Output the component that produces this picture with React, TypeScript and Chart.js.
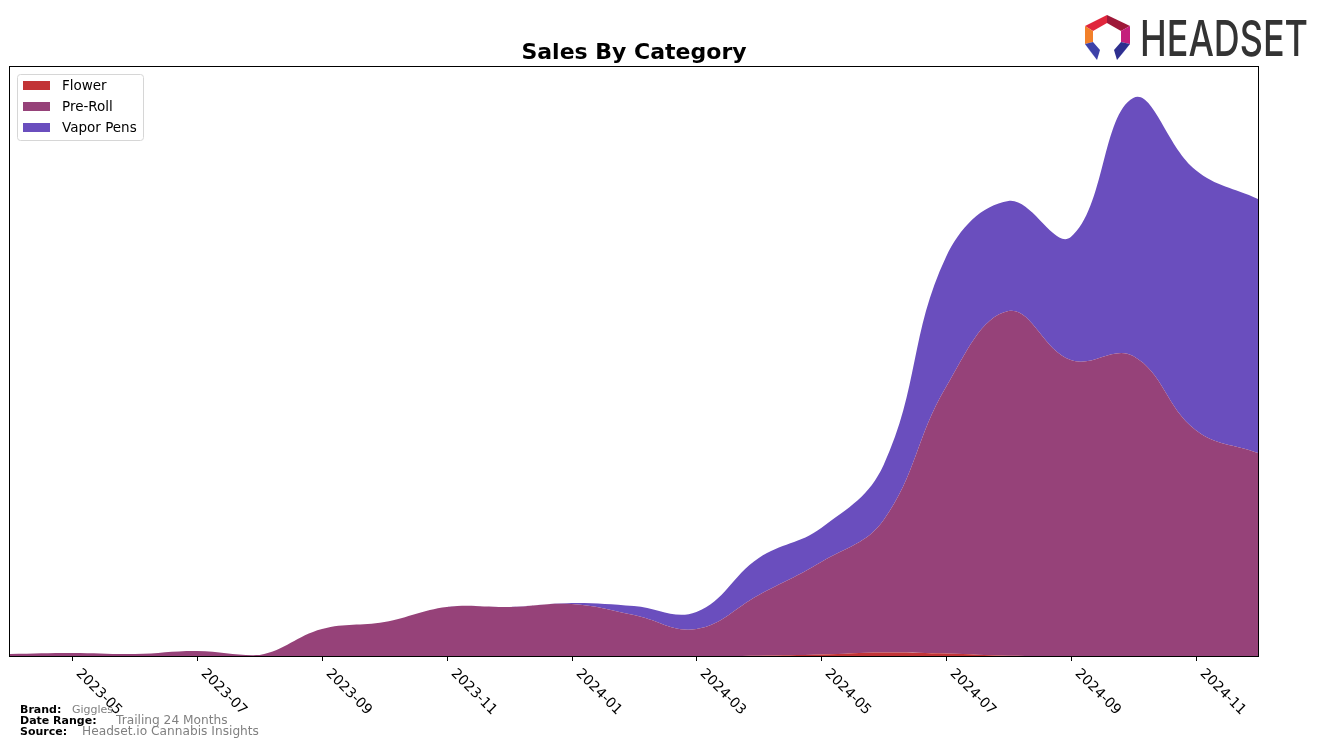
import React, { useEffect, useRef } from "react";
import { Chart, registerables } from "chart.js";

Chart.register(...registerables);

// ---- data (relative sales) ----
const months = [
  "2023-04", "2023-05", "2023-06", "2023-07", "2023-08", "2023-09", "2023-10",
  "2023-11", "2023-12", "2024-01", "2024-02", "2024-03", "2024-04", "2024-05",
  "2024-06", "2024-07", "2024-08", "2024-09", "2024-10", "2024-11", "2024-12",
];
const tickLabels = [
  "2023-05", "2023-07", "2023-09", "2023-11", "2024-01",
  "2024-03", "2024-05", "2024-07", "2024-09", "2024-11",
];
const flower = [0, 0, 0, 0, 0, 0, 0, 0, 0, 0, 0, 0, 0.3, 1.5, 3.5, 2.5, 0.3, 0, 0, 0, 0];
const preRoll = [2, 3, 2, 5, 1, 27, 34, 49, 49, 52, 41, 27, 60.7, 92.5, 132.5, 266.5, 344.7, 296, 300, 226, 203];
const vaporPens = [0, 0, 0, 0, 0, 0, 0, 0, 0, 1, 9, 17, 37, 34, 55, 130, 110, 123, 258, 260, 254];
const yMax = 589;

const seriesNames = ["Flower", "Pre-Roll", "Vapor Pens"];
const seriesColors = ["#c23436", "#964279", "#6a4ebe"];

const FONT = "'DejaVu Sans', 'Noto Sans', sans-serif";

function drawLogo(ctx: CanvasRenderingContext2D) {
  const P = (pts: number[][], color: string) => {
    ctx.beginPath();
    ctx.moveTo(pts[0][0], pts[0][1]);
    for (let i = 1; i < pts.length; i++) ctx.lineTo(pts[i][0], pts[i][1]);
    ctx.closePath();
    ctx.fillStyle = color;
    ctx.fill();
  };
  const T = [1107, 15], UR = [1130, 26], LR = [1130, 44], UL = [1085, 26], LL = [1085, 44];
  const Ti = [1107, 23], URi = [1121, 31], LRi = [1121, 42], ULi = [1093, 31], LLi = [1093, 42];
  P([UL, T, Ti, ULi], "#e0263c");
  P([T, UR, URi, Ti], "#9e1838");
  P([UR, LR, LRi, URi], "#c41f7c");
  P([UL, LL, LLi, ULi], "#f2802a");
  P([LL, LLi, [1100, 50], [1097, 60]], "#3d41a8");
  P([LL, [1097, 60], [1090, 51]], "#5a60d8");
  P([LRi, LR, [1117, 60], [1114, 50]], "#2e2f8f");
  P([LR, [1124, 51], [1117, 60]], "#4b4fc4");

  ctx.save();
  ctx.fillStyle = "#333333";
  ctx.font = `500 49px Inter, 'DejaVu Sans', sans-serif`;
  ctx.textBaseline = "alphabetic";
  ctx.textAlign = "left";
  const w = ctx.measureText("HEADSET").width;
  const target = 168;
  ctx.translate(1140, 56);
  ctx.scale(target / w, 1);
  ctx.fillText("HEADSET", 0, 0);
  ctx.restore();
}

const overlay = {
  id: "overlay",
  afterDraw(chart: any) {
    const ctx: CanvasRenderingContext2D = chart.ctx;
    const a = chart.chartArea;
    const xs = chart.scales.x;
    ctx.save();

    // frame
    ctx.strokeStyle = "#000";
    ctx.lineWidth = 1;
    ctx.strokeRect(a.left - 0.5, a.top - 0.5, a.right - a.left + 1, a.bottom - a.top + 1);

    // ticks + labels
    ctx.font = `14px ${FONT}`;
    ctx.fillStyle = "#000";
    ctx.textAlign = "left";
    ctx.textBaseline = "alphabetic";
    tickLabels.forEach((lab) => {
      const idx = months.indexOf(lab);
      const x = Math.round(xs.getPixelForValue(idx)) + 0.5;
      ctx.beginPath();
      ctx.moveTo(x, a.bottom);
      ctx.lineTo(x, a.bottom + 5);
      ctx.stroke();
      ctx.save();
      ctx.translate(x + 3, a.bottom + 18);
      ctx.rotate(Math.PI / 4);
      ctx.fillText(lab, 0, 0);
      ctx.restore();
    });

    // title
    ctx.font = `bold 22px ${FONT}`;
    ctx.textAlign = "center";
    ctx.fillText("Sales By Category", (a.left + a.right) / 2, 59);

    // legend
    const lx = 17.5, ly = 74.5, lw = 126, lh = 66;
    ctx.beginPath();
    ctx.roundRect(lx, ly, lw, lh, 3);
    ctx.fillStyle = "rgba(255,255,255,0.85)";
    ctx.fill();
    ctx.strokeStyle = "#d6d6d6";
    ctx.lineWidth = 1;
    ctx.stroke();
    ctx.font = `13.5px ${FONT}`;
    ctx.textAlign = "left";
    ctx.textBaseline = "middle";
    seriesNames.forEach((name, i) => {
      const cy = 86 + i * 21;
      ctx.fillStyle = seriesColors[i];
      ctx.fillRect(23, cy - 5, 27, 9);
      ctx.fillStyle = "#000";
      ctx.fillText(name, 62, cy + 0.5);
    });

    // footer
    ctx.textBaseline = "alphabetic";
    ctx.fillStyle = "#000";
    ctx.font = `bold 11px ${FONT}`;
    ctx.fillText("Brand:", 20, 713);
    ctx.fillText("Date Range:", 20, 724);
    ctx.fillText("Source:", 20, 735);
    ctx.fillStyle = "#808080";
    ctx.font = `11px ${FONT}`;
    ctx.fillText("Giggles", 72, 713);
    ctx.font = `12.2px ${FONT}`;
    ctx.fillText("Trailing 24 Months", 116, 724);
    ctx.fillText("Headset.io Cannabis Insights", 82, 735);

    drawLogo(ctx);
    ctx.restore();
  },
};

export default function App() {
  const ref = useRef<HTMLCanvasElement | null>(null);
  useEffect(() => {
    if (!ref.current) return;
    Chart.defaults.font.family = FONT;
    const datasets = [flower, preRoll, vaporPens].map((d, i) => ({
      label: seriesNames[i],
      data: d,
      backgroundColor: seriesColors[i],
      borderColor: "rgba(0,0,0,0)",
      borderWidth: 0,
      pointRadius: 0,
      fill: i === 0 ? "origin" : "-1",
      tension: 0.4,
    }));
    const chart = new Chart(ref.current, {
      type: "line",
      data: { labels: months, datasets },
      options: {
        animation: false,
        responsive: false,
        layout: { padding: { left: 10, top: 67, right: 64, bottom: 91 } },
        plugins: { legend: { display: false }, title: { display: false }, tooltip: { enabled: false } },
        scales: {
          x: { type: "category", display: false, offset: false },
          y: { display: false, stacked: true, min: 0, max: yMax },
        },
      },
      plugins: [overlay],
    });
    return () => chart.destroy();
  }, []);
  return (
    <div style={{ position: "absolute", left: 0, top: 0, width: 1322, height: 747, background: "#fff" }}>
      <canvas ref={ref} width={1322} height={747} style={{ display: "block" }} />
    </div>
  );
}
